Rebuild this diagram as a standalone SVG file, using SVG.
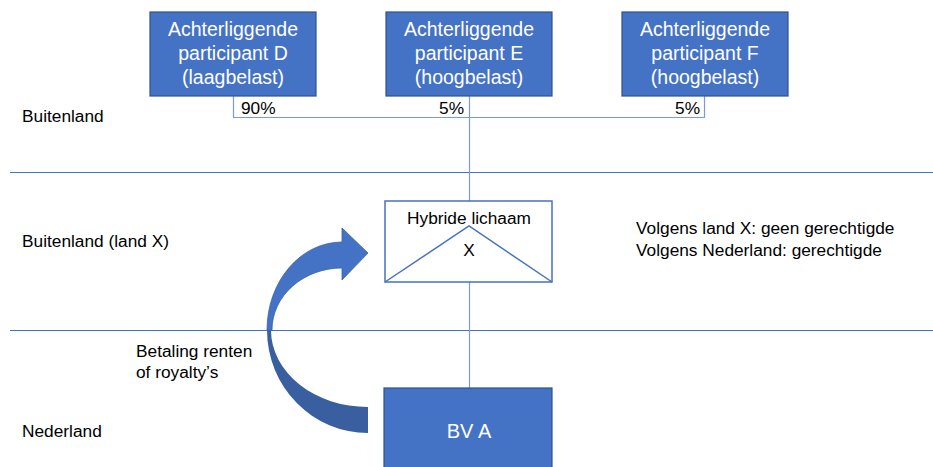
<svg xmlns="http://www.w3.org/2000/svg" width="933" height="467" viewBox="0 0 933 467">
  <style>
    .sep { stroke: #4472C4; stroke-width: 1; fill: none; }
    .conn { stroke: #7B9BD8; stroke-width: 1.2; fill: none; }
    .party { fill: #4472C4; stroke: #2F528F; stroke-width: 1.2; }
    .wt { font-family: "Liberation Sans", Arial, sans-serif; font-size: 19.5px; fill: #FFFFFF; text-anchor: middle; }
    .lbl { font-family: "Liberation Sans", Arial, sans-serif; font-size: 17.3px; fill: #000000; }
    .mid { text-anchor: middle; }
    .end { text-anchor: end; }
  </style>

  <rect width="933" height="467" fill="#FFFFFF"/>

  <!-- zone separators -->
  <g id="zones">
    <line class="sep" x1="10" y1="172.5" x2="933" y2="172.5"/>
    <line class="sep" x1="10" y1="330.5" x2="933" y2="330.5"/>
    <text class="lbl" x="22" y="122">Buitenland</text>
    <text class="lbl" x="22" y="247">Buitenland (land X)</text>
    <text class="lbl" x="22" y="437">Nederland</text>
  </g>

  <!-- ownership connectors -->
  <g id="connectors">
    <polyline class="conn" points="233.5,96 233.5,117.5 704.5,117.5 704.5,96"/>
    <line class="conn" x1="469.5" y1="96" x2="469.5" y2="201"/>
    <line class="conn" x1="469.5" y1="282" x2="469.5" y2="388"/>
    <text class="lbl" x="241" y="114">90%</text>
    <text class="lbl end" x="464" y="114">5%</text>
    <text class="lbl end" x="700" y="114">5%</text>
  </g>

  <g id="participant-d">
    <rect class="party" x="150" y="12" width="166" height="84"/>
    <text class="wt" x="233" y="36">Achterliggende</text>
    <text class="wt" x="233" y="60">participant D</text>
    <text class="wt" x="233" y="84">(laagbelast)</text>
  </g>

  <g id="participant-e">
    <rect class="party" x="386" y="12" width="166" height="84"/>
    <text class="wt" x="469" y="36">Achterliggende</text>
    <text class="wt" x="469" y="60">participant E</text>
    <text class="wt" x="469" y="84">(hoogbelast)</text>
  </g>

  <g id="participant-f">
    <rect class="party" x="622" y="12" width="166" height="84"/>
    <text class="wt" x="705" y="36">Achterliggende</text>
    <text class="wt" x="705" y="60">participant F</text>
    <text class="wt" x="705" y="84">(hoogbelast)</text>
  </g>

  <g id="hybride-lichaam">
    <rect x="385" y="201" width="167" height="81" fill="#FFFFFF" stroke="#4472C4" stroke-width="1.5"/>
    <polyline points="385,282 469,226 552,282" fill="none" stroke="#4472C4" stroke-width="1.5"/>
    <text class="lbl mid" x="469" y="224">Hybride lichaam</text>
    <text class="lbl mid" x="469" y="256">X</text>
  </g>

  <g id="bv-a">
    <rect class="party" x="384" y="388" width="168" height="84"/>
    <text class="wt" x="469" y="438" style="font-size:20px">BV A</text>
  </g>

  <!-- payment arrow -->
  <g id="betaling">
    <path d="M368,407 A97,77 0 0 1 271,330 L267,330 A101,103 0 0 0 368,433 Z" fill="#3A5FA0"/>
    <path d="M267,330 A75,88 0 0 1 342,242 L342,228 L368,253 L342,280 L342,268 A70,62 0 0 0 272,330 Z" fill="#4472C4" stroke="#3A62A8" stroke-width="0.8"/>
    <text class="lbl" x="136" y="357">Betaling renten</text>
    <text class="lbl" x="136" y="378">of royalty’s</text>
  </g>

  <g id="toelichting">
    <text class="lbl" x="636" y="234">Volgens land X: geen gerechtigde</text>
    <text class="lbl" x="636" y="256">Volgens Nederland: gerechtigde</text>
  </g>
</svg>
